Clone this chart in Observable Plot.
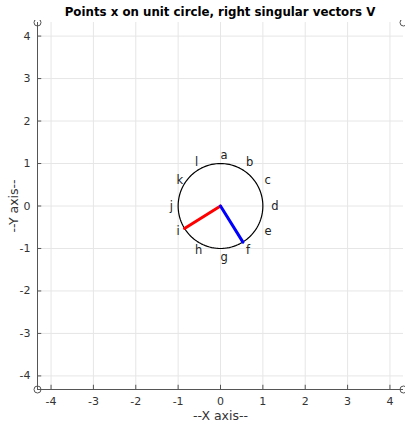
<!DOCTYPE html>
<html><head><meta charset="utf-8">
<script src="https://cdn.jsdelivr.net/npm/d3@7"></script>
<script src="https://cdn.jsdelivr.net/npm/@observablehq/plot@0.6"></script>
<style>
body{margin:0;background:#fff;font-family:"DejaVu Sans",sans-serif;}
#t{position:absolute;left:37px;width:366px;top:5px;text-align:center;font-weight:bold;font-size:11.8px;color:#000;}
#c{position:absolute;left:0;top:20px;}
</style></head><body>
<div id="t">Points x on unit circle, right singular vectors V</div>
<div id="c"></div>
<script>
const lim = 4.32;
const ticks = [-4,-3,-2,-1,0,1,2,3,4];
const labels = ["a","b","c","d","e","f","g","h","i","j","k","l"];
const labelAngles = [90,60,30,0,-30,-60,-90,-120,-150,180,150,120];
const labelRadius = 1.2;
const vecNames = ["v1","v2"];
const vecX = [-0.85, 0.53];
const vecY = [-0.53, -0.85];
const vecColors = ["#ff0000","#0000ff"];
const corners = [[-lim,lim],[lim,lim],[-lim,-lim],[lim,-lim]];

const circle = d3.range(0, 361, 3).map(a => ({x: Math.cos(a*Math.PI/180), y: Math.sin(a*Math.PI/180)}));
const lab = labels.map((l,i)=>({l, x: labelRadius*Math.cos(labelAngles[i]*Math.PI/180), y: labelRadius*Math.sin(labelAngles[i]*Math.PI/180)}));
const vecs = vecNames.flatMap((n,i)=>[{n,x:0,y:0},{n,x:vecX[i],y:vecY[i]}]);
const tk = 0.1;

const chart = Plot.plot({
  width: 405, height: 404,
  marginTop: 2, marginBottom: 35, marginLeft: 37, marginRight: 2,
  style: {fontFamily: "DejaVu Sans, sans-serif", fontSize: "11px", color: "#333", background: "#fff"},
  x: {domain: [-lim, lim]},
  y: {domain: [-lim, lim]},
  marks: [
    Plot.ruleX(ticks, {stroke: "#e6e6e6", strokeWidth: 1}),
    Plot.ruleY(ticks, {stroke: "#e6e6e6", strokeWidth: 1}),
    Plot.ruleX(ticks, {x: d=>d, y1: -lim, y2: -lim+tk, stroke: "#555"}),
    Plot.ruleY(ticks, {y: d=>d, x1: -lim, x2: -lim+tk, stroke: "#555"}),
    Plot.ruleX([-lim], {stroke: "#555"}),
    Plot.ruleY([-lim], {stroke: "#555"}),
    Plot.axisX(ticks, {tickSize: 0, tickPadding: 8, fontSize: 11, fill: "#333", label: null, tickFormat: d => String(d)}),
    Plot.axisY(ticks, {tickSize: 0, tickPadding: 7, fontSize: 11, fill: "#333", label: null, tickFormat: d => String(d)}),
    Plot.axisX({ticks: [], tickSize: 0, fontSize: 12.5, fill: "#333", label: "--X axis--", labelAnchor: "center", labelArrow: "none", labelOffset: 30}),
    Plot.axisY({ticks: [], tickSize: 0, fontSize: 12.5, fill: "#333", label: "--Y axis--", labelAnchor: "center", labelArrow: "none", labelOffset: 28}),
    Plot.line(circle, {x: "x", y: "y", stroke: "#000", strokeWidth: 1.2}),
    Plot.line(vecs, {x: "x", y: "y", z: "n", stroke: (d)=>vecColors[vecNames.indexOf(d.n)], strokeWidth: 3}),
    Plot.text(lab, {x: "x", y: "y", text: "l", textAnchor: "start", fontSize: 11.5, fill: "#222"}),
    Plot.dot(corners, {x: d=>d[0], y: d=>d[1], r: 3.5, stroke: "#555", fill: "none", strokeWidth: 1})
  ]
});
document.getElementById("c").appendChild(chart);
</script>
</body></html>
